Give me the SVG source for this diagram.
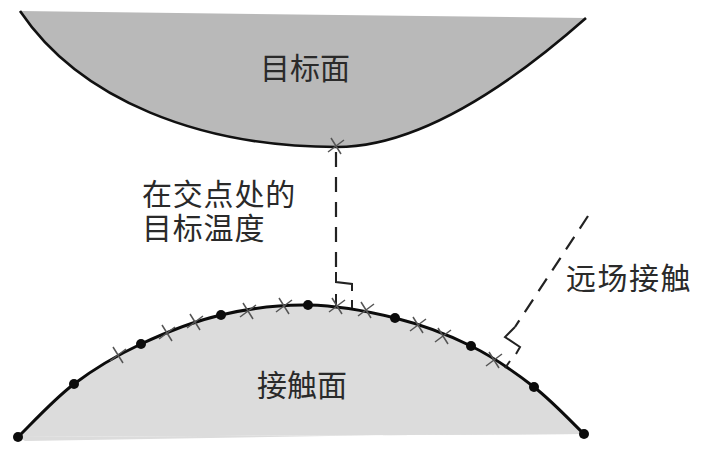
<svg xmlns="http://www.w3.org/2000/svg" width="705" height="461" viewBox="0 0 705 461">
<style>
text{font-family:"Liberation Sans","Noto Sans CJK SC",sans-serif;font-size:30px;fill:#2a2a2a}
.x{stroke:#555;stroke-width:1.5;fill:none}
.d{fill:#0c0c0c}
.dash{stroke:#222;stroke-width:2.2;fill:none;stroke-dasharray:15 10}
.l{stroke:#222;stroke-width:2;fill:none}
.t{stroke:#111;stroke-width:2.6;fill:none}
.c{stroke:#0c0c0c;stroke-width:3;fill:none}
</style>
<defs>
<g id="xm"><path class="x" d="M-5-8L5 8M-8 6L8-6"/></g>
<path id="tc" d="M20 11C80 100 200 147 337 147C420 147 510 85 586 18"/>
<path id="cc" d="M18 437C27.300 428.200 53.500 399.500 74 384C94.500 368.500 116.500 355.500 141 344C165.500 332.500 193.200 321.500 221 315C248.800 308.500 279 304.500 308 305C337 305.500 367.800 311.200 395 318C422.200 324.800 447.800 334.500 471 346C494.200 357.500 515.200 372.300 534 387C552.800 401.700 575.700 426.200 584 434"/>
</defs>
<rect width="705" height="461" fill="#fff"/>
<g id="target"><use href="#tc" fill="#b9b9b9"/><use href="#tc" class="t"/><text x="260" y="79">目标面</text></g>
<g id="contact"><path d="M18 437L25 441L578 432L584 434Z" fill="#dcdcdc"/><use href="#cc" fill="#dcdcdc"/><use href="#cc" class="c"/><text x="257" y="396">接触面</text></g>
<g id="connectors">
<path class="dash" d="M336 152V272"/>
<path class="l" d="M336 272V282L352 284V291"/>
<path class="l" d="M336 294V306M352 300V308"/>
<path class="dash" d="M588 216L515 327"/>
<path class="l" d="M515 327L505 337L520 347L516 354"/>
<path class="l" d="M510 361L505 368"/>
</g>
<g id="markers">
<use href="#xm" x="336" y="146"/><use href="#xm" x="118" y="355"/><use href="#xm" x="167" y="333"/><use href="#xm" x="195" y="322"/><use href="#xm" x="248" y="311"/><use href="#xm" x="284" y="306"/><use href="#xm" x="337" y="306"/><use href="#xm" x="366" y="310"/><use href="#xm" x="418" y="325"/><use href="#xm" x="443" y="336"/><use href="#xm" x="494" y="360"/>
<circle class="d" cx="18" cy="437" r="5"/><circle class="d" cx="74" cy="384" r="5"/><circle class="d" cx="141" cy="344" r="5"/><circle class="d" cx="221" cy="315" r="5"/><circle class="d" cx="308" cy="305" r="5"/><circle class="d" cx="395" cy="318" r="5"/><circle class="d" cx="471" cy="346" r="5"/><circle class="d" cx="534" cy="387" r="5"/><circle class="d" cx="584" cy="434" r="5"/>
</g>
<g id="labels">
<text letter-spacing="0.8"><tspan x="142" y="205">在交点处的</tspan><tspan x="142" y="239">目标温度</tspan></text>
<text x="566" y="289" letter-spacing="1.5">远场接触</text>
</g>
</svg>
